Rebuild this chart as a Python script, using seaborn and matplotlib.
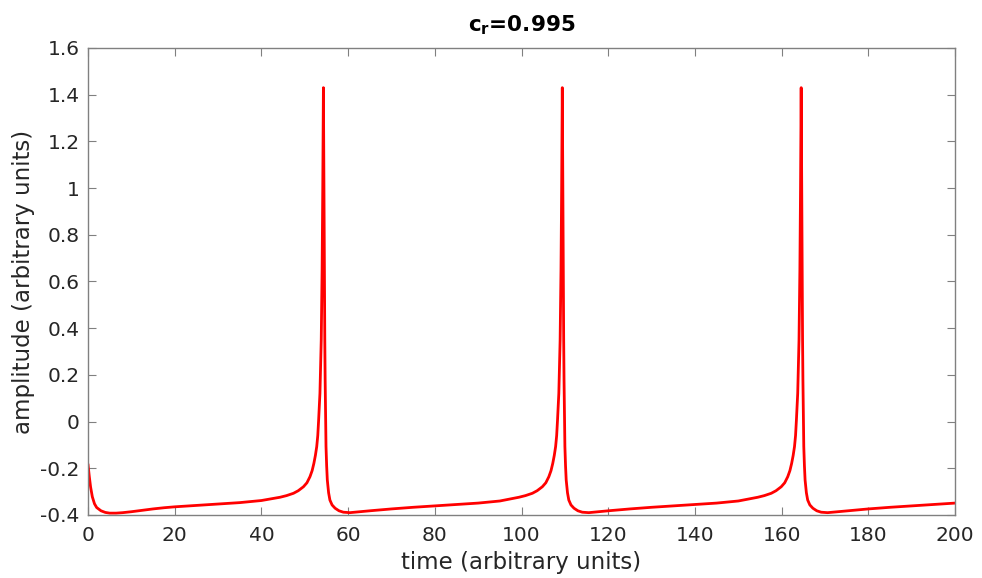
import pandas as pd
import matplotlib
matplotlib.use('Agg')
import matplotlib.pyplot as plt
import seaborn as sns

# values
time = [0, 0.3, 0.6, 1.0, 1.5, 2.0, 3.0, 4.0, 5.0, 6.5, 8, 10, 12.5, 15, 17.5, 20, 25, 30, 35, 40,
        44.3, 45.8, 47.4, 48.5, 49.7, 50.5, 51.2, 51.7, 52.1, 52.45, 52.76, 53.0, 53.2, 53.5,
        53.8, 54.0, 54.15, 54.3,
        54.42, 54.52, 54.62, 54.7, 54.8, 54.9, 55.05, 55.2, 55.5, 55.8, 56.3, 57.0, 57.9, 58.9, 60.4, 62.7,
        65, 70, 75, 80, 85, 90, 95,
        99.4, 100.9, 102.5, 103.6, 104.8, 105.6, 106.3, 106.8, 107.2, 107.55, 107.86, 108.1, 108.3, 108.6,
        108.9, 109.1, 109.25, 109.4,
        109.52, 109.62, 109.72, 109.8, 109.9, 110.0, 110.15, 110.3, 110.6, 110.9, 111.4, 112.1, 113.0, 114.0,
        115.5, 117.8,
        120, 125, 130, 135, 140, 145, 150,
        154.5, 156.0, 157.6, 158.7, 159.9, 160.7, 161.4, 161.9, 162.3, 162.65, 162.96, 163.2, 163.4, 163.7,
        164.0, 164.2, 164.35, 164.5,
        164.62, 164.72, 164.82, 164.9, 165.0, 165.1, 165.25, 165.4, 165.7, 166.0, 166.5, 167.2, 168.1, 169.1,
        170.6, 172.9,
        175, 180, 185, 190, 195, 200]
amplitude = [-0.182, -0.235, -0.28, -0.322, -0.352, -0.368, -0.382, -0.389, -0.392, -0.392, -0.390, -0.386,
             -0.380, -0.374, -0.369, -0.365, -0.359, -0.353, -0.347, -0.338,
             -0.324, -0.317, -0.307, -0.296, -0.279, -0.262, -0.236, -0.21, -0.179, -0.145, -0.107, -0.06,
             0.007, 0.121, 0.35, 0.65, 1.0, 1.43,
             1.0, 0.65, 0.35, 0.18, 0.03, -0.107, -0.19, -0.25, -0.305, -0.336, -0.357, -0.371, -0.382, -0.388,
             -0.39, -0.386,
             -0.382, -0.374, -0.367, -0.361, -0.355, -0.349, -0.340,
             -0.324, -0.317, -0.307, -0.296, -0.279, -0.262, -0.236, -0.21, -0.179, -0.145, -0.107, -0.06,
             0.007, 0.121, 0.35, 0.65, 1.0, 1.43,
             1.0, 0.65, 0.35, 0.18, 0.03, -0.107, -0.19, -0.25, -0.305, -0.336, -0.357, -0.371, -0.382, -0.388,
             -0.39, -0.386,
             -0.382, -0.374, -0.367, -0.361, -0.355, -0.349, -0.340,
             -0.324, -0.317, -0.307, -0.296, -0.279, -0.262, -0.236, -0.21, -0.179, -0.145, -0.107, -0.06,
             0.007, 0.121, 0.35, 0.65, 1.0, 1.43,
             1.0, 0.65, 0.35, 0.18, 0.03, -0.107, -0.19, -0.25, -0.305, -0.336, -0.357, -0.371, -0.382, -0.388,
             -0.39, -0.386,
             -0.382, -0.374, -0.367, -0.361, -0.355, -0.349]
x_ticks = [0, 20, 40, 60, 80, 100, 120, 140, 160, 180, 200]
y_ticks = [-0.4, -0.2, 0, 0.2, 0.4, 0.6, 0.8, 1, 1.2, 1.4, 1.6]
y_ticklabels = ['-0.4', '-0.2', '0', '0.2', '0.4', '0.6', '0.8', '1', '1.2', '1.4', '1.6']

df = pd.DataFrame({'time': time, 'amplitude': amplitude})

sns.set_style("ticks")
plt.rcParams['font.family'] = ['DejaVu Sans']
plt.rcParams['mathtext.fontset'] = 'dejavusans'

fig = plt.figure(figsize=(9.82, 5.78), dpi=100)
ax = fig.add_axes([0.0896, 0.109, 0.883, 0.808])

sns.lineplot(data=df, x='time', y='amplitude', color='#ff0000', linewidth=2,
             estimator=None, sort=False, ax=ax)

ax.set_xlim(0, 200)
ax.set_ylim(-0.4, 1.6)
ax.set_xticks(x_ticks)
ax.set_yticks(y_ticks)
ax.set_yticklabels(y_ticklabels)

text_col = '#262626'
for s in ax.spines.values():
    s.set_visible(True)
    s.set_color('#808080')
    s.set_linewidth(1.0)
ax.tick_params(direction='in', length=5.5, width=0.8, color='#808080',
               labelsize=14.5, labelcolor=text_col, top=True, right=True)
ax.tick_params(axis='x', pad=8)
ax.tick_params(axis='y', pad=6)

ax.set_xlabel('time (arbitrary units)', fontsize=16.5, color=text_col, labelpad=4)
ax.set_ylabel('amplitude (arbitrary units)', fontsize=16.5, color=text_col, labelpad=4)
ax.set_title(r'c$_{\mathbf{r}}$=0.995', fontsize=15.5, fontweight='bold', color='black', pad=12)

fig.savefig('out.png', dpi=100)
